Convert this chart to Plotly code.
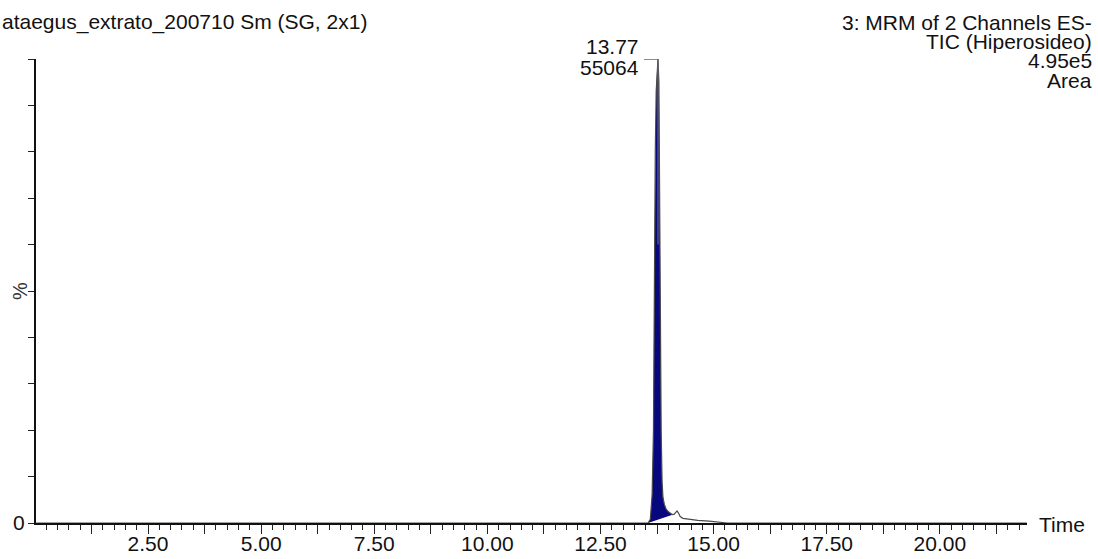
import plotly.graph_objects as go

# ---- data ----
time_min = [0.03, 13.50, 13.55, 13.60, 13.64, 13.67, 13.69, 13.71, 13.73, 13.75,
            13.77, 13.79, 13.80, 13.82, 13.84, 13.86, 13.88, 13.91, 13.95, 14.00,
            14.05, 14.09, 14.13, 14.16, 14.19, 14.22, 14.26, 14.32, 14.45, 14.65,
            14.90, 15.15, 15.30, 21.92]
intensity_pct = [0, 0, 0, 0.8, 6, 20, 55, 80, 93, 98,
                 100, 95, 75, 45, 20, 9, 5.5, 4, 3, 2.4,
                 2.0, 1.8, 1.9, 2.2, 2.6, 2.2, 1.4, 1.0, 0.8, 0.55,
                 0.4, 0.25, 0, 0]
peak_start, peak_end = 13.55, 14.09
peak_rt = 13.77
peak_area = 55064

x_label_vals = [2.5, 5.0, 7.5, 10.0, 12.5, 15.0, 17.5, 20.0]
x_major_vals = [1.25 * i for i in range(1, 18)]
y_tick_vals = [10 * i for i in range(11)]

title_left = "ataegus_extrato_200710 Sm (SG, 2x1)"
header_right = ["3: MRM of 2 Channels ES-", "TIC (Hiperosideo)", "4.95e5", "Area"]

FONT = "Liberation Sans, Arial, sans-serif"
FS = 21
W, H = 1098, 559
L, R, T, B = 36, 71, 59, 36
PW, PH = W - L - R, H - T - B

def px(xp):
    return (xp - L) / PW

def py(yp):
    return (H - B - yp) / PH

fig = go.Figure()

# filled integrated peak (closed to its baseline)
fx = [t for t in time_min if peak_start <= t <= peak_end]
fy = [v for t, v in zip(time_min, intensity_pct) if peak_start <= t <= peak_end]
fig.add_trace(go.Scatter(x=fx, y=fy, mode="lines", fill="toself",
                         fillcolor="#07077e", line=dict(width=0),
                         hoverinfo="skip", showlegend=False))
# chromatogram trace
fig.add_trace(go.Scatter(x=time_min, y=intensity_pct, mode="lines",
                         line=dict(color="#4a4a4a", width=1.2),
                         showlegend=False))

# peak label leader
fig.add_shape(type="line", x0=13.46, x1=peak_rt, y0=100, y1=100,
              line=dict(color="#666", width=1.5))
fig.add_shape(type="line", x0=peak_rt, x1=peak_rt, y0=100, y1=60,
              line=dict(color="#666", width=1.2))

ann = []
ann.append(dict(x=px(0), y=py(22), xref="paper", yref="paper", text=title_left,
                showarrow=False, xanchor="left", yanchor="middle",
                font=dict(size=FS, color="#111", family=FONT)))
for i, line in enumerate(header_right):
    ann.append(dict(x=px(1094), y=py(22 + 19.4 * i), xref="paper", yref="paper",
                    text=line, showarrow=False, xanchor="right", yanchor="middle",
                    font=dict(size=FS, color="#111", family=FONT)))
ann.append(dict(x=px(641), y=py(47), xref="paper", yref="paper", text=f"{peak_rt:.2f}",
                showarrow=False, xanchor="right", yanchor="middle",
                font=dict(size=FS, color="#111", family=FONT)))
ann.append(dict(x=px(641), y=py(68), xref="paper", yref="paper", text=str(peak_area),
                showarrow=False, xanchor="right", yanchor="middle",
                font=dict(size=FS, color="#111", family=FONT)))
ann.append(dict(x=px(1037), y=py(524), xref="paper", yref="paper", text="Time",
                showarrow=False, xanchor="left", yanchor="middle",
                font=dict(size=FS, color="#111", family=FONT)))
ann.append(dict(x=px(27), y=py(522), xref="paper", yref="paper", text="0",
                showarrow=False, xanchor="right", yanchor="middle",
                font=dict(size=FS, color="#111", family=FONT)))
ann.append(dict(x=px(20), y=py(291), xref="paper", yref="paper", text="%",
                showarrow=False, xanchor="center", yanchor="middle", textangle=-90,
                font=dict(size=FS - 1, color="#333", family=FONT)))

fig.update_layout(
    width=W, height=H,
    margin=dict(l=L, r=R, t=T, b=B, pad=0, autoexpand=False),
    plot_bgcolor="white", paper_bgcolor="white",
    annotations=ann,
    xaxis=dict(range=[0.024, 21.925], showgrid=False, zeroline=False, automargin=False,
               showline=True, linecolor="#111", linewidth=1.5,
               tickmode="array", tickvals=x_major_vals,
               ticktext=[f"{v:.2f}" if v in x_label_vals else "" for v in x_major_vals],
               ticks="outside", ticklen=9, tickwidth=1.2, tickcolor="#222",
               ticklabelstandoff=-8,
               tickfont=dict(size=FS, color="#111", family=FONT),
               minor=dict(tickmode="linear", tick0=0, dtick=0.25, ticks="outside",
                          ticklen=5, tickwidth=1, tickcolor="#222")),
    yaxis=dict(range=[0, 100], showgrid=False, zeroline=False, automargin=False,
               showline=True, linecolor="#111", linewidth=1.5,
               tickmode="array", tickvals=y_tick_vals, showticklabels=False,
               ticks="outside", ticklen=6, tickwidth=1.2, tickcolor="#222"),
)

fig.write_html("out.html", config={"displayModeBar": False},
               post_script="document.body.style.margin='0';")
